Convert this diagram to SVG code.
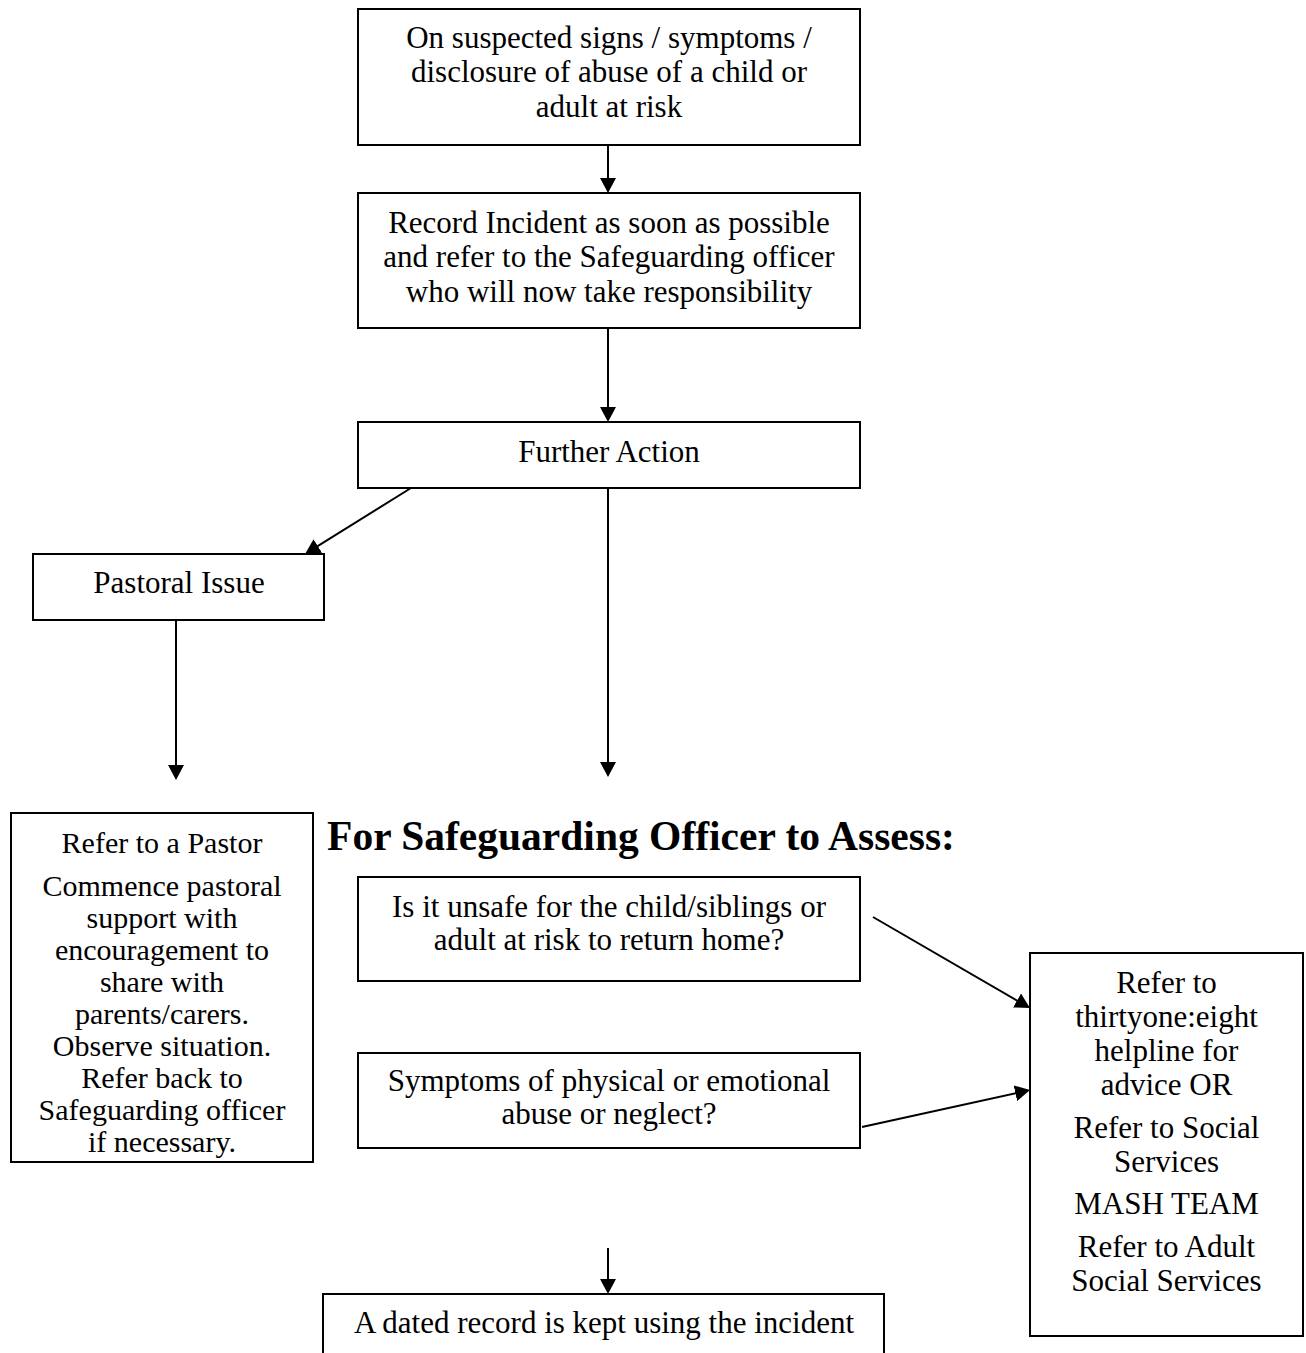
<svg xmlns="http://www.w3.org/2000/svg" width="1306" height="1353" viewBox="0 0 1306 1353">
<style>
.box{fill:#fff;stroke:#000;stroke-width:2}
.t{font-family:"Liberation Serif","Times New Roman",serif;font-size:31px;fill:#000;text-anchor:middle}
.s{font-size:30px}
.title{font-family:"Liberation Serif","Times New Roman",serif;font-size:41.5px;font-weight:bold;fill:#000;text-anchor:middle}
.c{stroke:#000;stroke-width:2;fill:none;marker-end:url(#ah)}
</style>
<defs>
<marker id="ah" viewBox="0 0 15 16" refX="12" refY="8" markerWidth="15" markerHeight="16" markerUnits="userSpaceOnUse" orient="auto">
<path d="M0,0 L15,8 L0,16 z" fill="#000"/>
</marker>
</defs>
<rect width="1306" height="1353" fill="#fff"/>

<g id="n-start">
<rect class="box" x="358" y="9" width="502" height="136"/>
<text class="t" x="609" y="48">On suspected signs / symptoms /</text>
<text class="t" x="609" y="82">disclosure of abuse of a child or</text>
<text class="t" x="609" y="117">adult at risk</text>
</g>

<g id="n-record">
<rect class="box" x="358" y="193" width="502" height="135"/>
<text class="t" x="609" y="233">Record Incident as soon as possible</text>
<text class="t" x="609" y="267">and refer to the Safeguarding officer</text>
<text class="t" x="609" y="302">who will now take responsibility</text>
</g>

<g id="n-further">
<rect class="box" x="358" y="422" width="502" height="66"/>
<text class="t" x="609" y="462">Further Action</text>
</g>

<g id="n-pastoral">
<rect class="box" x="33" y="554" width="291" height="66"/>
<text class="t" x="179" y="593">Pastoral Issue</text>
</g>

<g id="n-title">
<text class="title" x="641" y="850">For Safeguarding Officer to Assess:</text>
</g>

<g id="n-pastor">
<rect class="box" x="11" y="813" width="302" height="349"/>
<text class="t s" x="162" y="853">Refer to a Pastor</text>
<text class="t s" x="162" y="896">Commence pastoral</text>
<text class="t s" x="162" y="928">support with</text>
<text class="t s" x="162" y="960">encouragement to</text>
<text class="t s" x="162" y="992">share with</text>
<text class="t s" x="162" y="1024">parents/carers.</text>
<text class="t s" x="162" y="1056">Observe situation.</text>
<text class="t s" x="162" y="1088">Refer back to</text>
<text class="t s" x="162" y="1120">Safeguarding officer</text>
<text class="t s" x="162" y="1152">if necessary.</text>
</g>

<g id="n-unsafe">
<rect class="box" x="358" y="877" width="502" height="104"/>
<text class="t" x="609" y="917">Is it unsafe for the child/siblings or</text>
<text class="t" x="609" y="950">adult at risk to return home?</text>
</g>

<g id="n-symptoms">
<rect class="box" x="358" y="1053" width="502" height="95"/>
<text class="t" x="609" y="1091">Symptoms of physical or emotional</text>
<text class="t" x="609" y="1124">abuse or neglect?</text>
</g>

<g id="n-refer">
<rect class="box" x="1030" y="953" width="273" height="383"/>
<text class="t" x="1166.5" y="993">Refer to</text>
<text class="t" x="1166.5" y="1027">thirtyone:eight</text>
<text class="t" x="1166.5" y="1061">helpline for</text>
<text class="t" x="1166.5" y="1095">advice OR</text>
<text class="t" x="1166.5" y="1138">Refer to Social</text>
<text class="t" x="1166.5" y="1172">Services</text>
<text class="t" x="1166.5" y="1214">MASH TEAM</text>
<text class="t" x="1166.5" y="1257">Refer to Adult</text>
<text class="t" x="1166.5" y="1291">Social Services</text>
</g>

<g id="n-dated">
<rect class="box" x="323" y="1294" width="561" height="100"/>
<text class="t" x="604" y="1333">A dated record is kept using the incident</text>
</g>

<g id="connectors">
<line class="c" x1="608" y1="145" x2="608" y2="190"/>
<line class="c" x1="608" y1="328" x2="608" y2="419"/>
<line class="c" x1="411" y1="488" x2="307.6" y2="552.4"/>
<line class="c" x1="176" y1="620" x2="176" y2="777"/>
<line class="c" x1="608" y1="488" x2="608" y2="774"/>
<line class="c" x1="873" y1="917" x2="1027.4" y2="1006.5"/>
<line class="c" x1="862" y1="1127" x2="1027.1" y2="1090.7"/>
<line class="c" x1="608" y1="1248" x2="608" y2="1291"/>
</g>
</svg>
